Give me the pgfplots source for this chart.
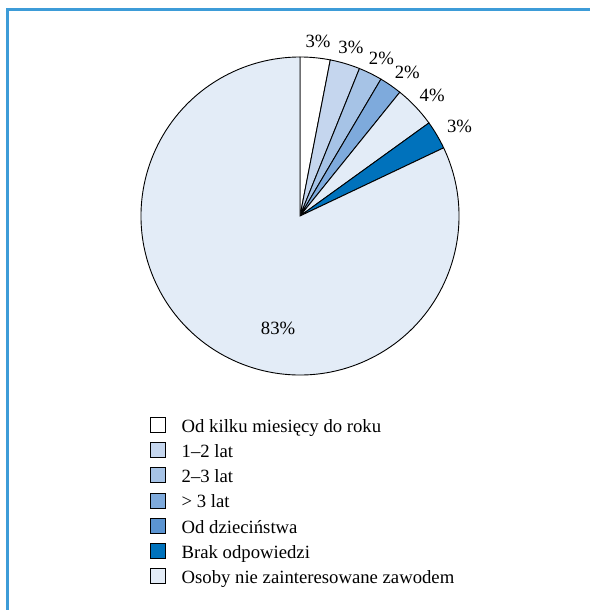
\documentclass[border=0pt]{standalone}
\usepackage{pgfplots}
\pgfplotsset{compat=1.18}
\usepackage{fontspec}
\setmainfont{Liberation Serif}

\definecolor{framebl}{HTML}{3D9CD8}
\definecolor{cjeden}{HTML}{C5D6EE}
\definecolor{cdwa}{HTML}{A6C3E6}
\definecolor{ctrzy}{HTML}{7EAADC}
\definecolor{cdzie}{HTML}{5B94D1}
\definecolor{cbrak}{HTML}{0072BC}
\definecolor{cosob}{HTML}{E3ECF7}

\begin{document}
\begin{tikzpicture}[font=\fontsize{18.7bp}{22bp}\selectfont]
\begin{axis}[
    x=159bp, y=159bp,
    xmin=-1.8868, xmax=1.8239,
    ymin=-2.478, ymax=1.3585,
    hide axis, clip=false,
    legend cell align=left,
    legend image code/.code={
        \path[draw=none, fill=none] (0bp,0bp) -- (31.5bp,0bp);
        \draw[#1, line width=0.6bp] (0bp,-7.5bp) rectangle (15bp,7.5bp);
    },
    legend style={
        at={(axis cs:-0.9453,-1.2516)}, anchor=north west,
        draw=none, fill=none, inner sep=0pt,
        column sep=0pt, row sep=6.2bp,
        nodes={inner sep=0pt, text height=17bp, text depth=2bp},
        font=\fontsize{18.7bp}{22bp}\selectfont
    }
]
% frame
\draw[framebl, line width=2.5bp] (axis cs:1.8239,1.2987) -- (axis cs:-1.8396,1.2987) -- (axis cs:-1.8396,-2.478);

% slices: value / colour / label / label radius / label angle shift
\pgfplotsextra{
  \gdef\pieang{90}
  \foreach \v/\c/\t/\r/\s in {3.05/white/3/1.107/-0.4, 3.05/cjeden/3/1.11/-0.3,
                             2.4/cdwa/2/1.113/-1.1, 2.3/ctrzy/2/1.125/-2.1,
                             4.25/cosob/4/1.126/-1.05, 2.9/cbrak/3/1.151/-1.25,
                             82.05/cosob/83/0/0}{
    \pgfmathsetmacro\pieend{\pieang-3.6*\v}
    \pgfmathsetmacro\piemid{(\pieang+\pieend)/2+\s}
    \filldraw[fill=\c, draw=black, line width=0.9bp]
      (axis cs:0,0) -- (axis cs:{cos(\pieang)},{sin(\pieang)})
      arc[start angle=\pieang, end angle=\pieend, radius=159bp] -- cycle;
    \ifdim\r pt>0pt
      \node at (axis cs:{\r*cos(\piemid)},{\r*sin(\piemid)}) {\t\%};
    \fi
    \global\let\pieang\pieend
  }
}
\node at (axis cs:-0.138,-0.704) {83\%};

\addlegendimage{fill=white, draw=black}
\addlegendentry{Od kilku miesięcy do roku}
\addlegendimage{fill=cjeden, draw=black}
\addlegendentry{1–2 lat}
\addlegendimage{fill=cdwa, draw=black}
\addlegendentry{2–3 lat}
\addlegendimage{fill=ctrzy, draw=black}
\addlegendentry{> 3 lat}
\addlegendimage{fill=cdzie, draw=black}
\addlegendentry{Od dzieciństwa}
\addlegendimage{fill=cbrak, draw=black}
\addlegendentry{Brak odpowiedzi}
\addlegendimage{fill=cosob, draw=black}
\addlegendentry{Osoby nie zainteresowane zawodem}
\end{axis}
\pgfresetboundingbox
\path (current axis.south west) rectangle (current axis.north east);
\end{tikzpicture}
\end{document}
